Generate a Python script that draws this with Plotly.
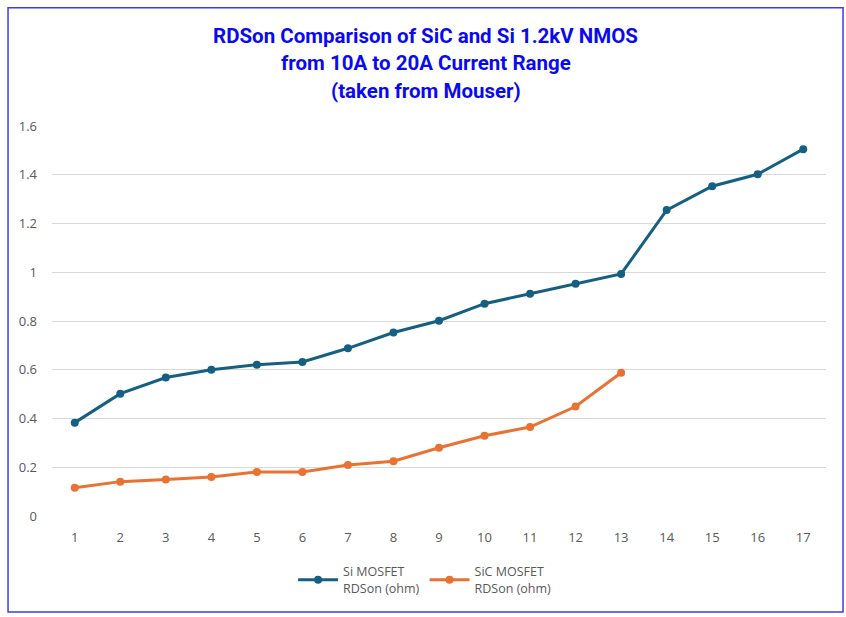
import plotly.graph_objects as go

categories = [str(i) for i in range(1, 18)]
si_values = [0.383, 0.502, 0.568, 0.600, 0.621, 0.632, 0.688, 0.753, 0.801, 0.871,
             0.912, 0.953, 0.993, 1.255, 1.353, 1.402, 1.505]
sic_values = [0.116, 0.141, 0.150, 0.160, 0.181, 0.181, 0.209, 0.225, 0.280, 0.329,
              0.365, 0.449, 0.588]
y_ticks = [0, 0.2, 0.4, 0.6, 0.8, 1.0, 1.2, 1.4, 1.6]
y_ticklabels = ["0", "0.2", "0.4", "0.6", "0.8", "1", "1.2", "1.4", "1.6"]
title_lines = ["RDSon Comparison of SiC and Si 1.2kV NMOS",
               "from 10A to 20A Current Range",
               "(taken from Mouser)"]

fig = go.Figure()
fig.add_trace(go.Scatter(
    x=categories, y=si_values, mode="lines+markers",
    name="Si MOSFET<br>RDSon (ohm)",
    line=dict(color="#156082", width=3),
    marker=dict(color="#156082", size=8),
))
fig.add_trace(go.Scatter(
    x=categories[:len(sic_values)], y=sic_values, mode="lines+markers",
    name="SiC MOSFET<br>RDSon (ohm)",
    line=dict(color="#E97132", width=3),
    marker=dict(color="#E97132", size=8),
))

plot_h = 390.0
title_centers_px = [36, 63, 91]
annotations = []
for line, py in zip(title_lines, title_centers_px):
    annotations.append(dict(
        text="<b>" + line + "</b>", xref="paper", yref="paper",
        x=0.483, y=(516 - py) / plot_h, xanchor="center", yanchor="middle",
        showarrow=False,
        font=dict(family="Roboto, sans-serif", size=20.5, color="#0A0AF0"),
    ))

fig.update_layout(
    width=846, height=617,
    margin=dict(l=52, r=20, t=126, b=101),
    paper_bgcolor="white", plot_bgcolor="white",
    font=dict(family="Open Sans, Liberation Sans, sans-serif", color="#595959", size=13),
    xaxis=dict(
        type="category", categoryorder="array", categoryarray=categories,
        range=[-0.5, 16.5], showgrid=False, zeroline=False, showline=False,
        ticks="", ticklabelstandoff=12, tickfont=dict(size=13, color="#595959"),
    ),
    yaxis=dict(
        range=[0, 1.6], tickvals=y_ticks, ticktext=y_ticklabels,
        showgrid=True, gridcolor="#D9D9D9", gridwidth=1, zeroline=False,
        showline=False, ticks="", ticklabelstandoff=14,
        tickfont=dict(size=13, color="#595959"),
    ),
    legend=dict(
        orientation="h", x=0.482, xanchor="center", y=-0.105, yanchor="top",
        font=dict(size=12.5, color="#595959"), itemwidth=40,
        traceorder="normal",
    ),
    showlegend=True,
    annotations=annotations,
    shapes=[dict(
        type="rect", xref="paper", yref="paper",
        x0=-0.0568, x1=1.022, y0=-0.246, y1=1.303,
        line=dict(color="#3B3BF0", width=1.5), fillcolor="rgba(0,0,0,0)",
        layer="below",
    )],
)

fig.write_html("out.html", config={"displayModeBar": False},
               post_script="document.body.style.margin='0';document.body.style.padding='0';")
